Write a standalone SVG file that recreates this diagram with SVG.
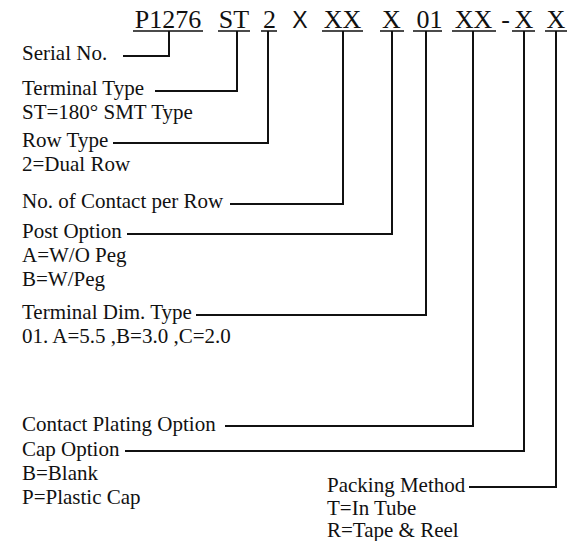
<svg xmlns="http://www.w3.org/2000/svg" width="582" height="541" viewBox="0 0 582 541">
<style>
.t{font-family:"Liberation Serif","Times New Roman",serif;font-size:21px;fill:#111}
.h{font-family:"Liberation Serif","Times New Roman",serif;font-size:26px;fill:#111;text-anchor:middle}
.hs{font-family:"Liberation Sans",Arial,sans-serif;font-size:23px;fill:#111;text-anchor:middle}
.u{stroke:#111;stroke-width:1.6;fill:none}
.c{stroke:#111;stroke-width:2;fill:none}
</style>
<rect width="582" height="541" fill="#fff"/>
<g id="code">
<text class="h" x="168" y="28">P1276</text>
<text class="h" x="234" y="28">ST</text>
<text class="h" x="269.5" y="28">2</text>
<text class="hs" x="300" y="28">X</text>
<text class="h" x="342.5" y="28">XX</text>
<text class="h" x="391.5" y="28">X</text>
<text class="h" x="429.5" y="28">01</text>
<text class="h" x="473.5" y="28">XX</text>
<text class="h" x="505.5" y="28">-</text>
<text class="h" x="524" y="28">X</text>
<text class="h" x="556" y="28">X</text>
<path class="u" d="M133 31H203M218 31H250M261 31H277M322 31H363M380 31H404M413 31H442M452 31H496M512 31H535M545 31H567"/>
</g>
<g id="connectors">
<path class="c" d="M169 31V56H123"/>
<path class="c" d="M237 31V91H155"/>
<path class="c" d="M268 31V143H113"/>
<path class="c" d="M343 31V204H230"/>
<path class="c" d="M392 31V234H127"/>
<path class="c" d="M426 31V315H196"/>
<path class="c" d="M473 31V426H225"/>
<path class="c" d="M524 31V451H125"/>
<path class="c" d="M556 31V487H469"/>
</g>
<g id="serial"><text class="t" x="22" y="60">Serial No.</text></g>
<g id="terminal-type"><text class="t" x="22" y="95">Terminal Type</text><text class="t" x="22" y="119">ST=180° SMT Type</text></g>
<g id="row-type"><text class="t" x="22" y="147">Row Type</text><text class="t" x="22" y="171">2=Dual Row</text></g>
<g id="contacts"><text class="t" x="22" y="208">No. of Contact per Row</text></g>
<g id="post-option"><text class="t" x="22" y="238">Post Option</text><text class="t" x="22" y="262">A=W/O Peg</text><text class="t" x="22" y="286">B=W/Peg</text></g>
<g id="terminal-dim"><text class="t" x="22" y="319">Terminal Dim. Type</text><text class="t" x="22" y="343">01. A=5.5 ,B=3.0 ,C=2.0</text></g>
<g id="plating"><text class="t" x="22" y="431">Contact Plating Option</text></g>
<g id="cap-option"><text class="t" x="22" y="456">Cap Option</text><text class="t" x="22" y="480">B=Blank</text><text class="t" x="22" y="504">P=Plastic Cap</text></g>
<g id="packing"><text class="t" x="327" y="492">Packing Method</text><text class="t" x="327" y="515">T=In Tube</text><text class="t" x="327" y="537">R=Tape &amp; Reel</text></g>
</svg>
